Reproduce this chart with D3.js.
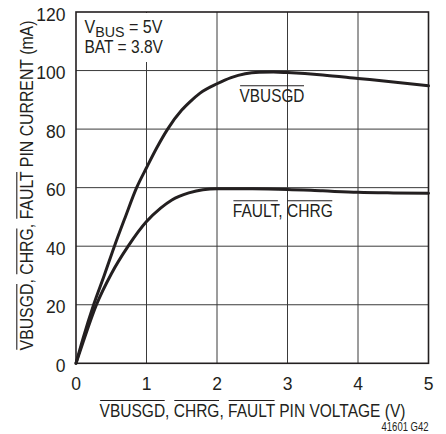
<!DOCTYPE html>
<html>
<head>
<meta charset="utf-8">
<script src="https://cdn.jsdelivr.net/npm/d3@7"></script>
<style>
  html, body { margin: 0; padding: 0; background: #fff; }
  svg { display: block; }
  text { font-family: "Liberation Sans", Arial, sans-serif; fill: #231f20; }
</style>
</head>
<body>
<svg id="chart" width="446" height="434"></svg>
<script>
// Pin voltage (V) vs pin sink current (mA)
const vbusgdVolts   = [0, 0.1, 0.25, 0.4, 0.545, 0.7, 0.86, 1.0, 1.15, 1.3, 1.5, 1.62, 1.76, 2.0, 2.2, 2.4, 2.6, 2.8, 3.0, 3.5, 4.0, 4.5, 5.0];
const vbusgdCurrent = [0, 8.5, 20, 30, 40, 50, 60, 66.8, 73.8, 80, 86.5, 89.4, 92.3, 95.5, 97.6, 98.9, 99.4, 99.5, 99.3, 98.5, 97.3, 96.1, 94.8];

const faultVolts    = [0, 0.1, 0.29, 0.5, 0.74, 1.0, 1.2, 1.36, 1.6, 1.8, 2.0, 2.5, 3.0, 3.5, 4.0, 4.5, 5.0];
const faultCurrent  = [0, 7.2, 20, 30.5, 40, 48.4, 53, 55.8, 58.2, 59.3, 59.6, 59.6, 59.4, 58.9, 58.4, 58.2, 58.1];

const xTicks = [0, 1, 2, 3, 4, 5];
const yTicks = [0, 20, 40, 60, 80, 100, 120];

const svg = d3.select("#chart");
const ink = "#231f20";

const x = d3.scaleLinear().domain([0, 5]).range([76, 428.5]);
const y = d3.scaleLinear().domain([0, 120]).range([363.3, 12]);

// grid
const grid = svg.append("g").attr("stroke", "#3a3a3a").attr("stroke-width", 1);
grid.selectAll(".vx").data(xTicks.slice(1, -1)).join("line")
  .attr("x1", d => x(d)).attr("x2", d => x(d))
  .attr("y1", y(120)).attr("y2", y(0));
grid.selectAll(".hy").data(yTicks.slice(1, -1)).join("line")
  .attr("x1", x(0)).attr("x2", x(5))
  .attr("y1", d => y(d)).attr("y2", d => y(d));

// white panel behind the test conditions
svg.append("rect")
  .attr("x", x(0) + 1).attr("y", y(120) + 1)
  .attr("width", 92).attr("height", 49)
  .attr("fill", "#fff");

// frame
svg.append("rect")
  .attr("x", x(0)).attr("y", y(120))
  .attr("width", x(5) - x(0)).attr("height", y(0) - y(120))
  .attr("fill", "none").attr("stroke", ink).attr("stroke-width", 1.6);

// tick labels
svg.append("g").selectAll("text").data(xTicks).join("text")
  .attr("x", d => x(d)).attr("y", 390)
  .attr("text-anchor", "middle").attr("font-size", 17.5)
  .text(d => d);
svg.append("g").selectAll("text").data(yTicks).join("text")
  .attr("x", 65.5).attr("y", d => y(d) + 8.6)
  .attr("text-anchor", "end").attr("font-size", 17.5)
  .text(d => d);

// curves
const line = d3.line().x(d => x(d[0])).y(d => y(d[1])).curve(d3.curveMonotoneX);
const curves = [
  d3.zip(vbusgdVolts, vbusgdCurrent),
  d3.zip(faultVolts, faultCurrent)
];
svg.append("g").selectAll("path").data(curves).join("path")
  .attr("d", line)
  .attr("fill", "none").attr("stroke", ink)
  .attr("stroke-width", 3).attr("stroke-linejoin", "round").attr("stroke-linecap", "round");

// Condensed label: the text is drawn at its natural width, then squeezed
// horizontally to width `len` with a scale transform about its anchor point.
function squeezed(parent, tx, ty, size, anchor, len) {
  const g = parent.append("g");
  const t = g.append("text").attr("x", 0).attr("y", 0)
    .attr("font-size", size).attr("text-anchor", anchor);
  return {
    g, t,
    fit() {
      const k = len / t.node().getComputedTextLength();
      g.attr("transform", `translate(${tx},${ty}) scale(${k},1)`);
      return k;
    }
  };
}

// condensed text with overlined pin names; bars = words that carry an overline
function overText(parent, str, bars, tx, ty, size, anchor, len, rise) {
  const s = squeezed(parent, tx, ty, size, anchor, len);
  s.t.text(str);
  s.fit();
  const node = s.t.node();
  bars.forEach(word => {
    const i = str.indexOf(word);
    const sx = node.getStartPositionOfChar(i).x;
    const ex = node.getEndPositionOfChar(i + word.length - 1).x;
    s.g.append("line")
      .attr("x1", sx + 0.7).attr("x2", ex - 0.5)
      .attr("y1", -rise).attr("y2", -rise)
      .attr("stroke", ink).attr("stroke-width", 1.1);
  });
  return s;
}

const pins = ["VBUSGD", "CHRG", "FAULT"];

// curve labels
overText(svg, "VBUSGD", ["VBUSGD"], 239.5, 101.7, 17.5, "start", 65, 16);
overText(svg, "FAULT, CHRG", ["FAULT", "CHRG"], 232.8, 216.7, 17.5, "start", 100, 16);

// x axis title
overText(svg, "VBUSGD, CHRG, FAULT PIN VOLTAGE (V)", pins, 252.5, 417, 19, "middle", 306, 16.5);

// y axis title
const yt = svg.append("g").attr("transform", "translate(33.3,185.5) rotate(-90)");
overText(yt, "VBUSGD, CHRG, FAULT PIN CURRENT (mA)", pins, 0, 0, 19, "middle", 330, 16.5);

// test conditions
const cond = squeezed(svg, 84.5, 33.3, 17.5, "start", 78);
cond.t.append("tspan").text("V");
cond.t.append("tspan").attr("font-size", 15.5).attr("dy", 3.4).text("BUS");
cond.t.append("tspan").attr("dy", -3.4).text(" = 5V");
cond.fit();
const bat = squeezed(svg, 84.5, 53.3, 17.5, "start", 78.5);
bat.t.text("BAT = 3.8V");
bat.fit();

// figure id
const fig = squeezed(svg, 428.5, 430.5, 13.5, "end", 47);
fig.t.text("41601 G42");
fig.fit();
</script>
</body>
</html>
